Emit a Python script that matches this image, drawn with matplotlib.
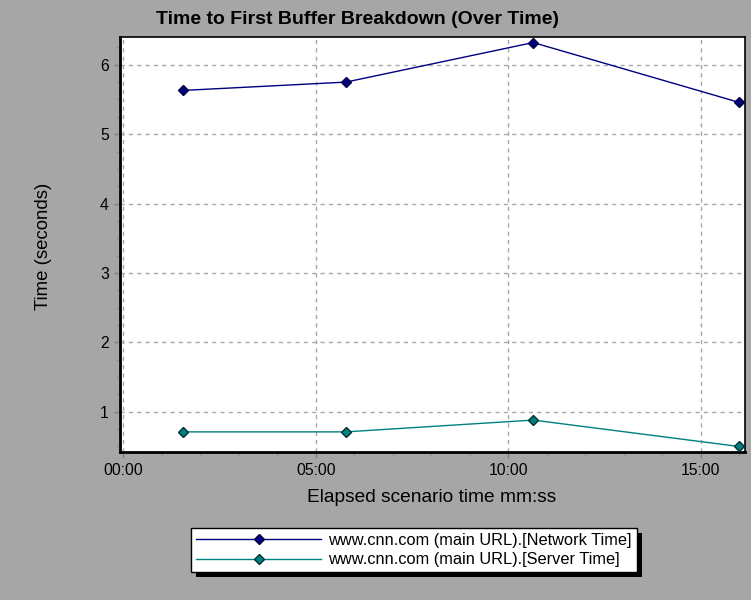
import matplotlib
matplotlib.use("Agg")
import matplotlib.pyplot as plt
from matplotlib.patches import Rectangle
from matplotlib.ticker import MultipleLocator, FuncFormatter

# %% Data (elapsed time in seconds, response times in seconds)
elapsed_sec = [93, 347, 639, 959]
network_time = [5.63, 5.75, 6.32, 5.46]
server_time = [0.71, 0.71, 0.88, 0.50]
series_labels = ["www.cnn.com (main URL).[Network Time]",
                 "www.cnn.com (main URL).[Server Time]"]

plt.rcParams["font.family"] = ["Liberation Sans", "DejaVu Sans"]

bg = "#a6a6a6"
fig = plt.figure(figsize=(7.51, 6.0), dpi=100, facecolor=bg)
ax = fig.add_axes([120 / 751, 1 - 452 / 600, 625 / 751, 415 / 600])
ax.set_facecolor("white")

ax.plot(elapsed_sec, network_time, color="#000080", lw=1.0, marker="D",
        ms=5, mfc="#000080", mec="#000040", label=series_labels[0], zorder=3)
ax.plot(elapsed_sec, server_time, color="#008080", lw=1.0, marker="D",
        ms=5, mfc="#008080", mec="#003030", label=series_labels[1], zorder=3)

ax.set_xlim(-5, 969)
ax.set_ylim(0.42, 6.4)

ax.xaxis.set_major_locator(MultipleLocator(300))
ax.xaxis.set_minor_locator(MultipleLocator(60))
ax.xaxis.set_major_formatter(FuncFormatter(lambda v, p: f"{int(v // 60):02d}:{int(v % 60):02d}"))
ax.yaxis.set_major_locator(MultipleLocator(1))
ax.yaxis.set_minor_locator(MultipleLocator(0.25))

ax.grid(True, which="major", color="#a8a8a8", linestyle=(0, (3, 3)), lw=1.0)
ax.tick_params(which="major", direction="out", length=4, width=1, color="#808080",
               labelsize=11.3, pad=4)
ax.tick_params(which="minor", direction="out", length=3, width=1, color="#909090")

for side in ["left", "bottom"]:
    ax.spines[side].set_linewidth(2.0)
for side in ["top", "right"]:
    ax.spines[side].set_linewidth(1.2)

fig.text(358 / 751, 1 - 20 / 600, "Time to First Buffer Breakdown (Over Time)",
         ha="center", va="center", fontsize=14, fontweight="bold")
ax.set_xlabel("Elapsed scenario time mm:ss", fontsize=13.8)
ax.xaxis.set_label_coords(0.498, -0.088)
ax.set_ylabel("Time (seconds)", fontsize=13.4)
ax.yaxis.set_label_coords(-0.109, 0.496)

leg = fig.legend(loc="center", bbox_to_anchor=(414 / 751, 1 - 550 / 600),
                 fontsize=11.8, handlelength=7.6, numpoints=1, frameon=True,
                 fancybox=False, edgecolor="black", framealpha=1,
                 borderpad=0.3, labelspacing=0.3, handletextpad=0.45,
                 borderaxespad=0)
leg.get_frame().set_linewidth(1.0)

# hard black drop shadow under the legend box
fig.canvas.draw()
bb = leg.get_window_extent()
fig.patches.append(Rectangle((bb.x0 + 5, bb.y0 - 5), bb.width, bb.height,
                             transform=None, facecolor="black", edgecolor="none",
                             zorder=4.9, figure=fig))

fig.savefig("out.png", dpi=100, facecolor=bg)
